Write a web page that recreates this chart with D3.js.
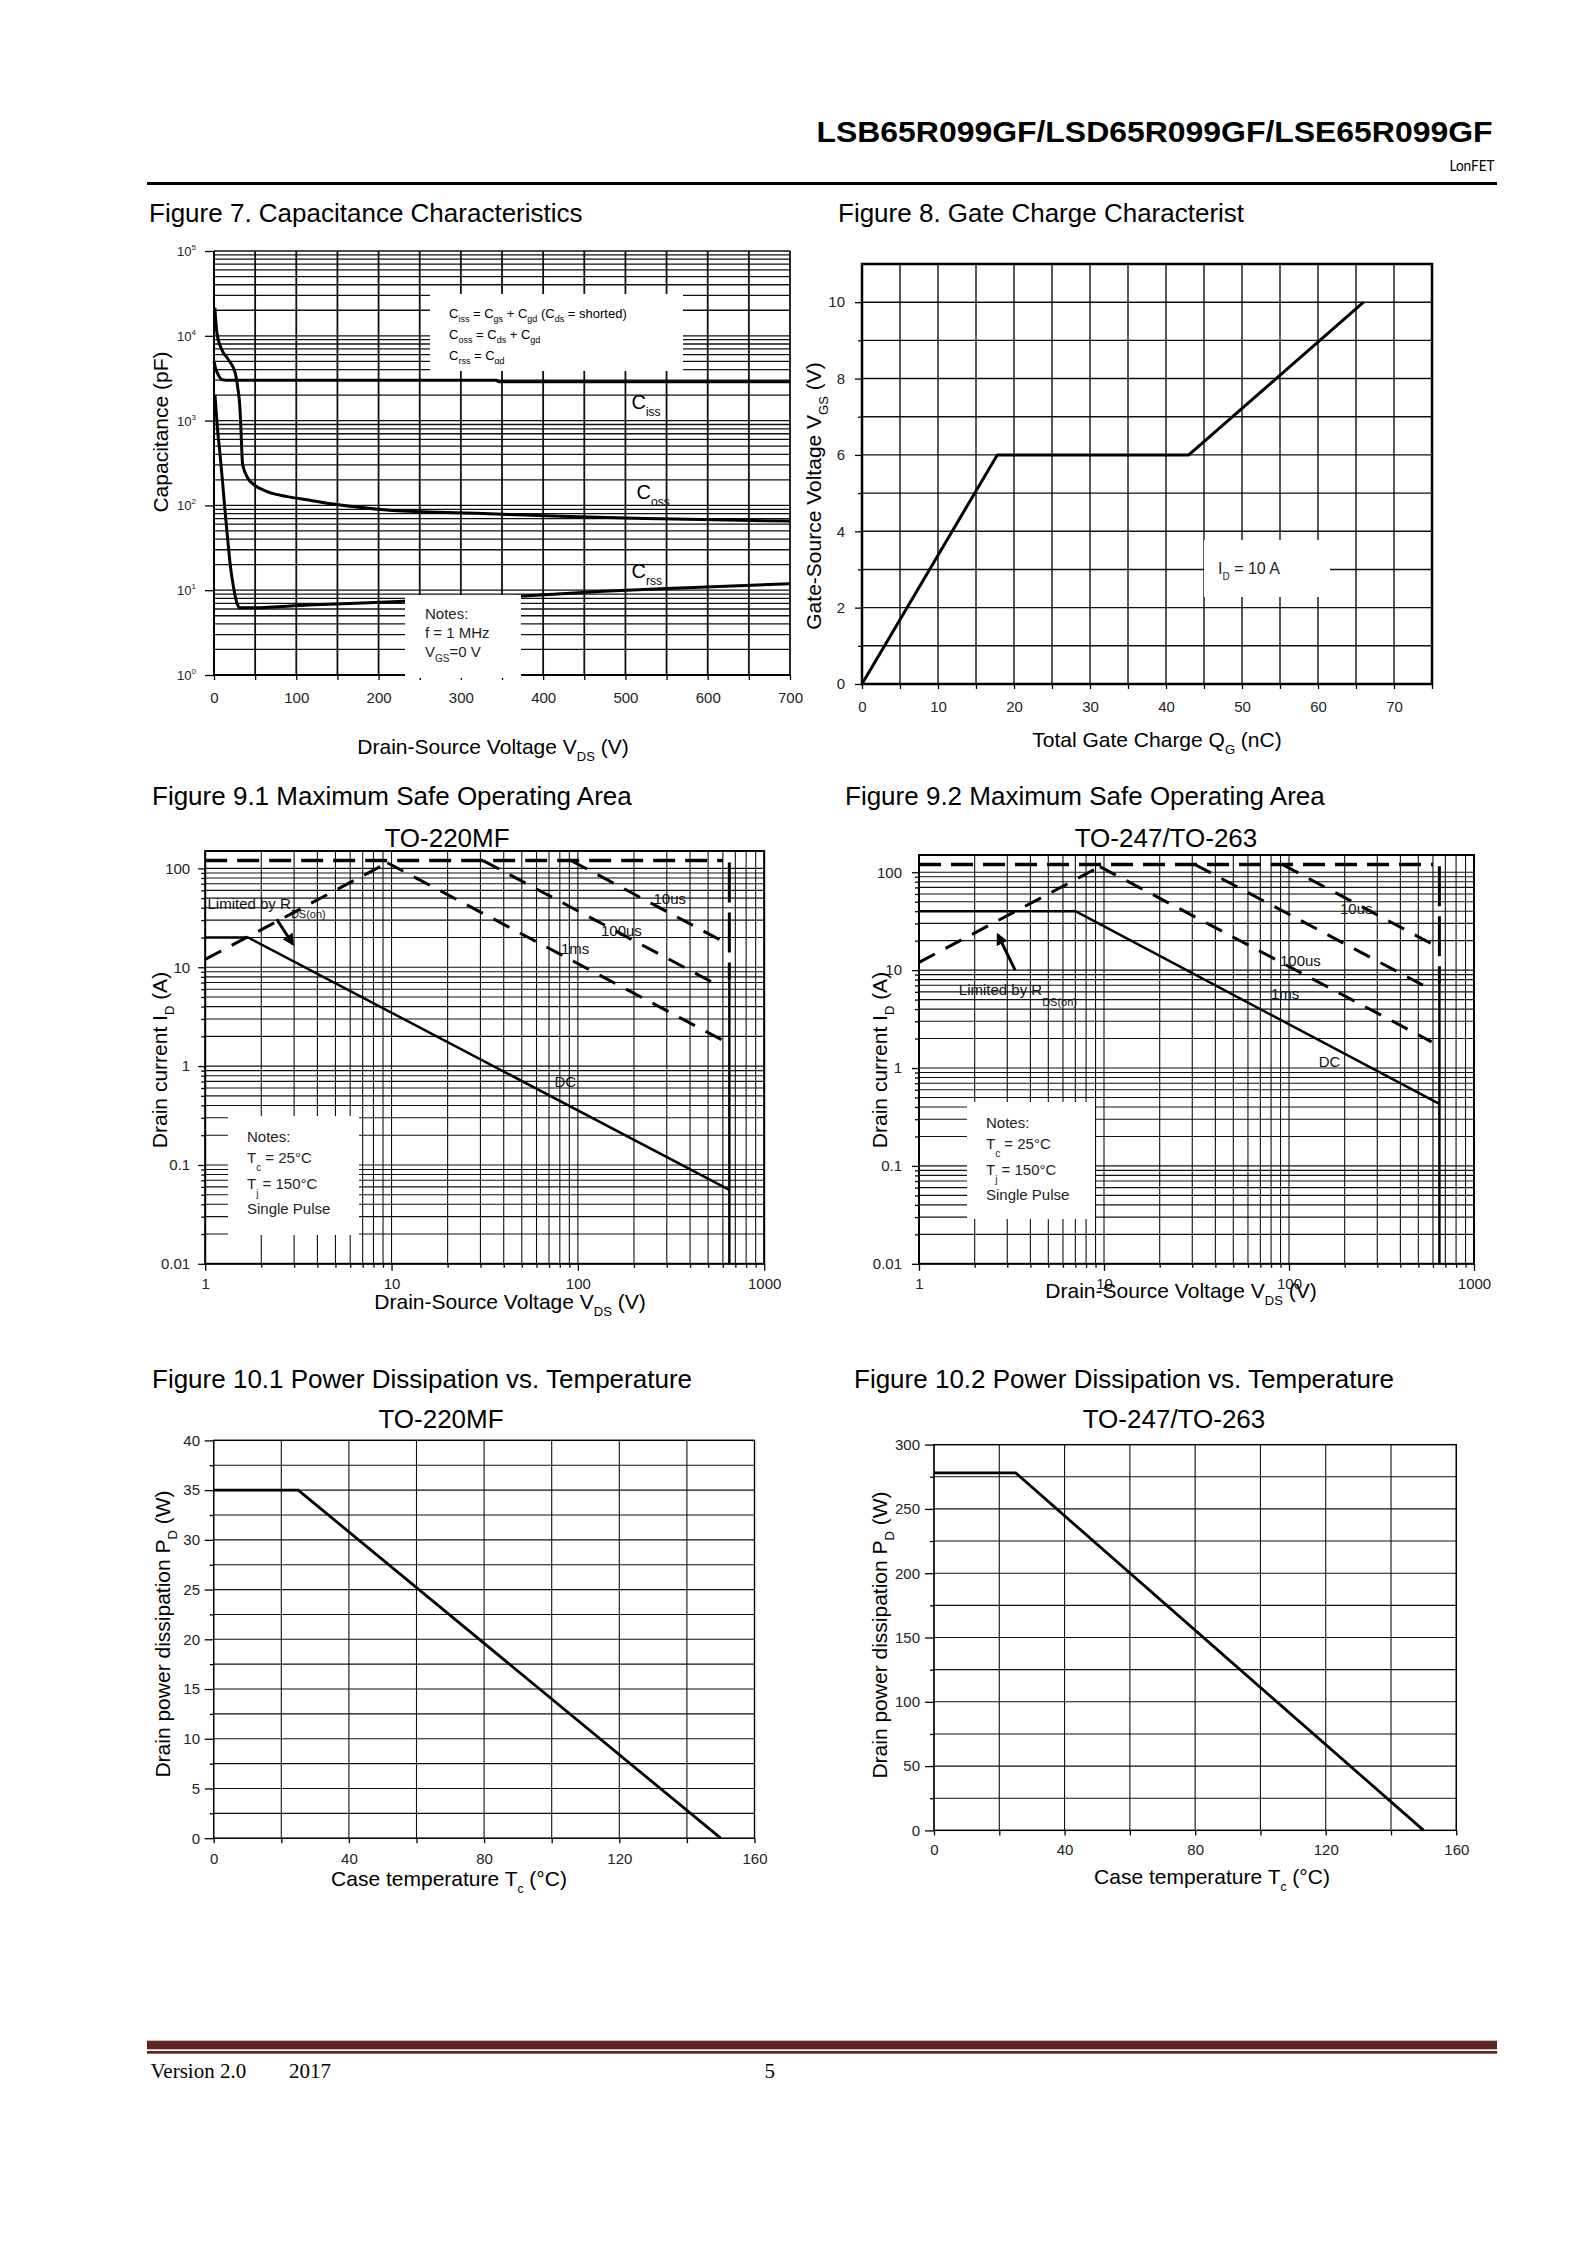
<!DOCTYPE html>
<html><head><meta charset="utf-8">
<script src="https://cdn.jsdelivr.net/npm/d3@7"></script>
<style>
html,body{margin:0;padding:0;background:#fff;}
svg{display:block;}
</style></head><body>
<svg id="page" width="1588" height="2246"></svg>
<script>
// ================= DATA =================
const headerTitle = "LSB65R099GF/LSD65R099GF/LSE65R099GF";
const headerBrand = "LonFET";
const footerVersion = "Version 2.0";
const footerYear = "2017";
const pageNumber = "5";

// Figure 7 – capacitance
const capXTicks = [0, 100, 200, 300, 400, 500, 600, 700];
const capYExp = [0, 1, 2, 3, 4, 5];
const cissV = [0, 2, 5, 10, 20, 100, 200, 343, 346, 500, 700];
const cissC = [5000, 4100, 3500, 3040, 2990, 2985, 2985, 2985, 2880, 2875, 2870];
const cossV = [1, 3.6, 9.7, 17.7, 25.9, 28.7, 31.6, 33.1, 34.7, 40.8, 48.4, 63.8, 89.4, 115, 140, 166, 217, 319, 421, 524, 626, 700];
const cossC = [21500, 10700, 6800, 5200, 3600, 2500, 1370, 650, 310, 212, 176, 146, 127, 116, 105, 97.5, 87.3, 80.9, 74.3, 70.3, 67.1, 65.3];
const crssV = [1.2, 4, 7, 10, 13, 16.5, 20, 24, 28, 31, 43, 115, 217, 370, 473, 575, 700];
const crssC = [2000, 850, 430, 210, 95, 41, 19, 10.5, 7, 6.2, 6.2, 6.7, 7.3, 8.5, 9.7, 10.7, 11.9];

// Figure 8 – gate charge
const gcXTicks = [0, 10, 20, 30, 40, 50, 60, 70];
const gcYTicks = [0, 2, 4, 6, 8, 10];
const gateChargeQ = [0, 17.8, 43, 66];
const gateVoltage = [0, 6, 6, 10];

// Figure 9 – safe operating area
const soaXTicks = [1, 10, 100, 1000];
const soaXLabels = ["1", "10", "100", "1000"];
const soaYTicks = [0.01, 0.1, 1, 10, 100];
const soaYLabels = ["0.01", "0.1", "1", "10", "100"];
const soaTopV = [1, 600];       const soaTopI = [120, 120];
const soaRdsV = [1, 9.5];       const soaRdsI = [12, 114];
const soa10usV = [92, 590];     const soa10usI = [120, 18.6];
const soa100usV = [31, 590];    const soa100usI = [120, 6.3];
const soa1msV = [9.5, 590];     const soa1msI = [114, 1.85];
const soaBvV = [650, 650];
const soaBvDashI = [115, 7.4];
const soaBvSolidI = [7.4, 0.01];
const soa1DcV = [1, 1.7, 650];  const soa1DcI = [20, 20, 0.056];
const soa2DcV = [1, 7, 650];    const soa2DcI = [40, 40, 0.43];

// Figure 10 – power dissipation
const tempXTicks = [0, 40, 80, 120, 160];
const caseTemp = [0, 25, 150];
const pd220 = [35, 35, 0];
const pd247 = [278, 278, 0];
const pd220YTicks = [0, 5, 10, 15, 20, 25, 30, 35, 40];
const pd247YTicks = [0, 50, 100, 150, 200, 250, 300];

// ================= HELPERS =================
const FONT = "'Liberation Sans', Arial, Helvetica, sans-serif";
const svg = d3.select("#page");
svg.append("rect").attr("width", 1588).attr("height", 2246).attr("fill", "#fff");

const defs = svg.append("defs");
defs.append("marker").attr("id", "arr").attr("viewBox", "0 0 10 10")
  .attr("refX", 8).attr("refY", 5).attr("markerWidth", 4).attr("markerHeight", 4)
  .attr("orient", "auto").append("path").attr("d", "M0,0 L10,5 L0,10 z").attr("fill", "#000");

function rich(parent, x, y, parts, size, o = {}) {
  const t = parent.append("text").attr("x", x).attr("y", y)
    .attr("font-size", size).attr("fill", o.fill || "#000")
    .attr("font-family", o.family || FONT);
  if (o.anchor) t.attr("text-anchor", o.anchor);
  if (o.weight) t.attr("font-weight", o.weight);
  if (o.rotate) t.attr("transform", `rotate(-90,${x},${y})`);
  if (o.textLength) t.attr("textLength", o.textLength).attr("lengthAdjust", "spacingAndGlyphs");
  let cur = 0;
  (Array.isArray(parts) ? parts : [parts]).forEach(p => {
    let s, off, fs = null;
    if (typeof p === "string") { s = p; off = 0; }
    else if (p.sub != null) { s = p.sub; off = p.dy != null ? p.dy : size * 0.35; fs = p.size || Math.round(size * 0.62); }
    else { s = p.sup; off = -(p.dy != null ? p.dy : size * 0.45); fs = p.size || Math.round(size * 0.62); }
    const ts = t.append("tspan").text(s);
    if (fs) ts.attr("font-size", fs);
    if (off - cur !== 0) ts.attr("dy", off - cur);
    cur = off;
  });
  return t;
}
function styleAxis(a, fs) {
  a.attr("font-family", FONT).attr("font-size", fs || 15);
  a.select(".domain").remove();
  a.selectAll(".tick line").attr("stroke", "#000").attr("stroke-width", 1.3);
  a.selectAll(".tick text").attr("fill", "#222");
  return a;
}
function hLines(g, vals, x1, x2, y, w, col) {
  g.append("g").selectAll("line").data(vals).join("line")
    .attr("x1", x1).attr("x2", x2).attr("y1", d => y(d)).attr("y2", d => y(d))
    .attr("stroke", col || "#000").attr("stroke-width", w);
}
function vLines(g, vals, y1, y2, x, w, col) {
  g.append("g").selectAll("line").data(vals).join("line")
    .attr("y1", y1).attr("y2", y2).attr("x1", d => x(d)).attr("x2", d => x(d))
    .attr("stroke", col || "#000").attr("stroke-width", w);
}
function path(g, xs, ys, x, y, w, dash, curve) {
  const line = d3.line().x(d => x(d[0])).y(d => y(d[1])).curve(curve || d3.curveLinear);
  const p = g.append("path").datum(xs.map((v, i) => [v, ys[i]])).attr("d", line)
    .attr("fill", "none").attr("stroke", "#000").attr("stroke-width", w)
    .attr("stroke-linejoin", "round");
  if (dash) p.attr("stroke-dasharray", dash);
  return p;
}

// ================= HEADER / FOOTER =================
rich(svg, 816.5, 141.5, headerTitle, 30, { weight: "bold", textLength: 676 });
rich(svg, 1449.5, 170.5, headerBrand, 15, { family: "Lato, 'Open Sans', sans-serif", textLength: 45 });
svg.append("line").attr("x1", 147).attr("x2", 1497).attr("y1", 183.5).attr("y2", 183.5)
  .attr("stroke", "#000").attr("stroke-width", 3);
svg.append("rect").attr("x", 147).attr("y", 2040.7).attr("width", 1350).attr("height", 8.6).attr("fill", "#622423");
svg.append("rect").attr("x", 147).attr("y", 2051).attr("width", 1350).attr("height", 2.7).attr("fill", "#622423");
const SERIF = "'Liberation Serif', 'Times New Roman', serif";
rich(svg, 150.5, 2078, footerVersion, 21, { family: SERIF });
rich(svg, 289, 2078, footerYear, 21, { family: SERIF });
rich(svg, 764.5, 2078, pageNumber, 21, { family: SERIF });

// ================= FIGURE 7 =================
(function () {
  const L = 214, R = 790, T = 251, B = 675;
  const x = d3.scaleLinear().domain([0, 700]).range([L, R]);
  const y = d3.scaleLog().domain([1, 1e5]).range([B, T]);
  const g = svg.append("g");
  rich(g, 149, 221.7, "Figure 7. Capacitance Characteristics", 26);
  const hv = [];
  for (let k = 0; k < 5; k++) for (let m = 1; m < 10; m++) hv.push(m * Math.pow(10, k));
  hv.push(1e5);
  hLines(g, hv, L, R, y, 1.3, "#111");
  vLines(g, d3.range(0, 701, 50), T, B, x, 1.8, "#111");
  g.append("line").attr("x1", L).attr("x2", L).attr("y1", T).attr("y2", B).attr("stroke", "#000").attr("stroke-width", 2);
  g.append("line").attr("x1", L).attr("x2", R).attr("y1", B).attr("y2", B).attr("stroke", "#000").attr("stroke-width", 2);
  styleAxis(g.append("g").attr("transform", `translate(0,${B})`)
    .call(d3.axisBottom(x).tickValues(d3.range(0, 701, 50)).tickSize(5).tickPadding(12)
      .tickFormat(d => capXTicks.includes(d) ? d : "")), 15);
  styleAxis(g.append("g").attr("transform", `translate(${L},0)`)
    .call(d3.axisLeft(y).tickValues(capYExp.map(e => Math.pow(10, e))).tickSize(9).tickFormat("")), 13);
  capYExp.forEach(e => rich(g, 196, y(Math.pow(10, e)) + 5, ["10", { sup: String(e), size: 8, dy: 6 }], 13, { anchor: "end", fill: "#222" }));

  path(g, cissV, cissC, x, y, 3, null, d3.curveMonotoneX);
  path(g, cossV, cossC, x, y, 3, null, d3.curveMonotoneX);
  path(g, crssV, crssC, x, y, 3, null, d3.curveMonotoneX);

  // equation box
  g.append("rect").attr("x", 430).attr("y", 294).attr("width", 253).attr("height", 77).attr("fill", "#fff");
  defs.append("clipPath").attr("id", "eqclip").append("rect").attr("x", 430).attr("y", 294).attr("width", 253).attr("height", 70);
  const eq = g.append("g").attr("clip-path", "url(#eqclip)");
  const sb = s => ({ sub: s, size: 9, dy: 4 });
  rich(eq, 449, 318, ["C", sb("iss"), " = C", sb("gs"), " + C", sb("gd"), " (C", sb("ds"), " = shorted)"], 13);
  rich(eq, 449, 339, ["C", sb("oss"), " = C", sb("ds"), " + C", sb("gd")], 13);
  rich(eq, 449, 360, ["C", sb("rss"), " = C", sb("gd")], 13);

  // notes box
  g.append("rect").attr("x", 405).attr("y", 595).attr("width", 116).attr("height", 83).attr("fill", "#fff");
  rich(g, 425, 619, "Notes:", 15, { fill: "#222" });
  rich(g, 425, 638, "f = 1 MHz", 15, { fill: "#222" });
  rich(g, 425, 657, ["V", { sub: "GS", size: 10, dy: 5 }, "=0 V"], 15, { fill: "#222" });
  // curve labels
  rich(g, 631.5, 409, ["C", { sub: "iss", size: 12, dy: 7 }], 20);
  rich(g, 636.5, 498.5, ["C", { sub: "oss", size: 12, dy: 7 }], 20);
  rich(g, 631.5, 578, ["C", { sub: "rss", size: 12, dy: 7 }], 20);
  // axis titles
  rich(g, 493, 754, ["Drain-Source Voltage V", { sub: "DS", size: 13, dy: 7 }, " (V)"], 21, { anchor: "middle" });
  rich(g, 168, 432, "Capacitance (pF)", 21, { anchor: "middle", rotate: true });
})();

// ================= FIGURE 8 =================
(function () {
  const L = 862, R = 1432, T = 264, B = 684;
  const x = d3.scaleLinear().domain([0, 75]).range([L, R]);
  const y = d3.scaleLinear().domain([0, 11]).range([B, T]);
  const g = svg.append("g");
  rich(g, 838, 221.7, "Figure 8. Gate Charge Characterist", 26);
  vLines(g, d3.range(0, 76, 5), T, B, x, 1.4, "#111");
  hLines(g, d3.range(0, 12, 1), L, R, y, 1.4, "#111");
  g.append("rect").attr("x", L).attr("y", T).attr("width", R - L).attr("height", B - T)
    .attr("fill", "none").attr("stroke", "#000").attr("stroke-width", 2.5);
  styleAxis(g.append("g").attr("transform", `translate(0,${B})`)
    .call(d3.axisBottom(x).tickValues(d3.range(0, 76, 5)).tickSize(5).tickPadding(12)
      .tickFormat(d => gcXTicks.includes(d) ? d : "")), 15);
  styleAxis(g.append("g").attr("transform", `translate(${L},0)`)
    .call(d3.axisLeft(y).tickValues(gcYTicks).tickSize(7).tickPadding(10)), 15);
  styleAxis(g.append("g").attr("transform", `translate(${L},0)`)
    .call(d3.axisLeft(y).tickValues([1, 3, 5, 7, 9]).tickSize(4).tickFormat("")), 15);
  path(g, gateChargeQ, gateVoltage, x, y, 3);
  g.append("rect").attr("x", 1204).attr("y", 540).attr("width", 126).attr("height", 57).attr("fill", "#fff");
  rich(g, 1218, 574, ["I", { sub: "D", size: 10, dy: 6 }, " = 10 A"], 16, { fill: "#222" });
  rich(g, 1157, 746.5, ["Total Gate Charge Q", { sub: "G", size: 13, dy: 7 }, " (nC)"], 21, { anchor: "middle" });
  rich(g, 821, 496, ["Gate-Source Voltage V", { sub: "GS", size: 13, dy: 7 }, " (V)"], 21, { anchor: "middle", rotate: true });
})();

// ================= FIGURE 9 =================
function drawSOA(c) {
  const { L, R, T, B } = c;
  const x = d3.scaleLog().domain([1, 1000]).range([L, R]);
  const y = d3.scaleLog().domain([0.01, 150]).range([B, T]);
  const g = svg.append("g");
  rich(g, c.titleX, 804.8, c.title, 26);
  rich(g, c.subX, 847, c.sub, 26, { anchor: "middle" });
  const xv = [], yv = [];
  for (let k = 0; k < 3; k++) for (let m = 1; m < 10; m++) xv.push(m * Math.pow(10, k));
  xv.push(1000);
  for (let k = -2; k < 2; k++) for (let m = 1; m < 10; m++) yv.push(m * Math.pow(10, k));
  yv.push(100);
  vLines(g, xv, T, B, x, 1.1, "#111");
  hLines(g, yv, L, R, y, 1.1, "#111");
  g.append("rect").attr("x", L).attr("y", T).attr("width", R - L).attr("height", B - T)
    .attr("fill", "none").attr("stroke", "#000").attr("stroke-width", 2);
  const minorX = xv.filter(v => !soaXTicks.includes(v));
  const minorY = yv.filter(v => !soaYTicks.includes(v));
  styleAxis(g.append("g").attr("transform", `translate(0,${B})`)
    .call(d3.axisBottom(x).tickValues(soaXTicks).tickSize(7).tickPadding(8)
      .tickFormat((d, i) => soaXLabels[i])), 15);
  styleAxis(g.append("g").attr("transform", `translate(0,${B})`)
    .call(d3.axisBottom(x).tickValues(minorX).tickSize(4).tickFormat("")), 15);
  styleAxis(g.append("g").attr("transform", `translate(${L},0)`)
    .call(d3.axisLeft(y).tickValues(soaYTicks).tickSize(7).tickPadding(c.yPad)
      .tickFormat((d, i) => soaYLabels[i])), 15);
  styleAxis(g.append("g").attr("transform", `translate(${L},0)`)
    .call(d3.axisLeft(y).tickValues(minorY).tickSize(4).tickFormat("")), 15);

  // pulse limit lines (dashed)
  path(g, soaTopV, soaTopI, x, y, 3.5, "22,10");
  path(g, soaRdsV, soaRdsI, x, y, 3, "18,12");
  path(g, soa10usV, soa10usI, x, y, 3, "18,12");
  path(g, soa100usV, soa100usI, x, y, 3, "18,12");
  path(g, soa1msV, soa1msI, x, y, 3, "18,12");
  path(g, soaBvV, soaBvDashI, x, y, 3, "40,10");
  path(g, soaBvV, soaBvSolidI, x, y, 2.5);
  path(g, c.dcV, c.dcI, x, y, 2.5);

  // arrow
  g.append("line").attr("x1", x(c.arrow[0])).attr("y1", y(c.arrow[1]))
    .attr("x2", x(c.arrow[2])).attr("y2", y(c.arrow[3]))
    .attr("stroke", "#000").attr("stroke-width", 3).attr("marker-end", "url(#arr)");

  // labels
  rich(g, c.lim[0], c.lim[1], ["Limited by R", { sub: "DS(on)", size: 11, dy: c.lim[2] }], 15, { fill: "#111" });
  rich(g, c.l10[0], c.l10[1], "10us", 15, { fill: "#111" });
  rich(g, c.l100[0], c.l100[1], "100us", 15, { fill: "#111" });
  rich(g, c.l1ms[0], c.l1ms[1], "1ms", 15, { fill: "#111" });
  rich(g, c.ldc[0], c.ldc[1], "DC", 15, { fill: "#111" });

  // notes
  g.append("rect").attr("x", c.notes[0]).attr("y", c.notes[1]).attr("width", c.notes[2]).attr("height", c.notes[3]).attr("fill", "#fff");
  const nx = c.notes[0] + 19, ny = c.notes[1] + 26;
  rich(g, nx, ny, "Notes:", 15, { fill: "#222" });
  rich(g, nx, ny + 20.5, ["T", { sub: "c", size: 10, dy: 8 }, " = 25°C"], 15, { fill: "#222" });
  rich(g, nx, ny + 46.5, ["T", { sub: "j", size: 10, dy: 8 }, " = 150°C"], 15, { fill: "#222" });
  rich(g, nx, ny + 72, "Single Pulse", 15, { fill: "#222" });

  // axis titles
  rich(g, c.xt[0], c.xt[1], ["Drain-Source Voltage V", { sub: "DS", size: 13, dy: 7 }, " (V)"], 21, { anchor: "middle" });
  rich(g, c.yt[0], c.yt[1], ["Drain current I", { sub: "D", size: 13, dy: 7 }, " (A)"], 21, { anchor: "middle", rotate: true });
}
drawSOA({
  L: 205.2, R: 764.2, T: 851, B: 1263.8, yPad: 8,
  title: "Figure 9.1 Maximum Safe Operating Area", titleX: 152,
  sub: "TO-220MF", subX: 447,
  dcV: soa1DcV, dcI: soa1DcI,
  arrow: [2.42, 30.6, 2.95, 17.2],
  lim: [207.5, 909, 9], l10: [653.5, 904], l100: [601, 935.5], l1ms: [561, 954], ldc: [554.5, 1087],
  notes: [228, 1116, 131, 119],
  xt: [510, 1308.6], yt: [167, 1060]
});
drawSOA({
  L: 919, R: 1474, T: 855, B: 1263.8, yPad: 10,
  title: "Figure 9.2 Maximum Safe Operating Area", titleX: 845,
  sub: "TO-247/TO-263", subX: 1166,
  dcV: soa2DcV, dcI: soa2DcI,
  arrow: [3.31, 10, 2.67, 22.9],
  lim: [958.8, 994.5, 11], l10: [1340, 914], l100: [1280, 966], l1ms: [1271, 998.5], ldc: [1318.7, 1067],
  notes: [967, 1102, 128, 117],
  xt: [1181, 1298], yt: [887, 1060]
});

// ================= FIGURE 10 =================
function drawPD(c) {
  const { L, R, T, B } = c;
  const x = d3.scaleLinear().domain([0, 160]).range([L, R]);
  const y = d3.scaleLinear().domain([0, c.yMax]).range([B, T]);
  const g = svg.append("g");
  rich(g, c.titleX, 1387.5, c.title, 26);
  rich(g, c.subX, 1428, c.sub, 26, { anchor: "middle" });
  vLines(g, d3.range(0, 161, 20), T, B, x, 1.1, "#111");
  hLines(g, d3.range(0, c.yMax + 0.001, c.grid), L, R, y, 1.1, "#111");
  g.append("rect").attr("x", L).attr("y", T).attr("width", R - L).attr("height", B - T)
    .attr("fill", "none").attr("stroke", "#000").attr("stroke-width", 1.3);
  styleAxis(g.append("g").attr("transform", `translate(0,${B})`)
    .call(d3.axisBottom(x).tickValues(d3.range(0, 161, 20)).tickSize(5).tickPadding(c.xPad)
      .tickFormat(d => tempXTicks.includes(d) ? d : "")), 15);
  styleAxis(g.append("g").attr("transform", `translate(${L},0)`)
    .call(d3.axisLeft(y).tickValues(c.yTicks).tickSize(9).tickPadding(c.yPad)), 15);
  styleAxis(g.append("g").attr("transform", `translate(${L},0)`)
    .call(d3.axisLeft(y).tickValues(d3.range(c.grid, c.yMax, c.grid * 2)).tickSize(4).tickFormat("")), 15);
  path(g, caseTemp, c.pd, x, y, 2.8);
  rich(g, c.xt[0], c.xt[1], ["Case temperature T", { sub: "c", size: 12, dy: 7 }, " (°C)"], 21, { anchor: "middle" });
  rich(g, c.yt[0], c.yt[1], ["Drain power dissipation P", { sub: "D", size: 13, dy: 7 }, " (W)"], 21, { anchor: "middle", rotate: true });
}
drawPD({
  L: 213.7, R: 754.5, T: 1440.4, B: 1838.2, yMax: 40, grid: 2.5, yTicks: pd220YTicks, pd: pd220,
  xPad: 10, yPad: 4.7,
  title: "Figure 10.1 Power Dissipation vs. Temperature", titleX: 152,
  sub: "TO-220MF", subX: 441,
  xt: [449, 1885.7], yt: [170, 1634]
});
drawPD({
  L: 934, R: 1456.3, T: 1444.6, B: 1830.4, yMax: 300, grid: 25, yTicks: pd247YTicks, pd: pd247,
  xPad: 9, yPad: 5,
  title: "Figure 10.2 Power Dissipation vs. Temperature", titleX: 854,
  sub: "TO-247/TO-263", subX: 1174,
  xt: [1212, 1884], yt: [887, 1635]
});
</script>
</body></html>
